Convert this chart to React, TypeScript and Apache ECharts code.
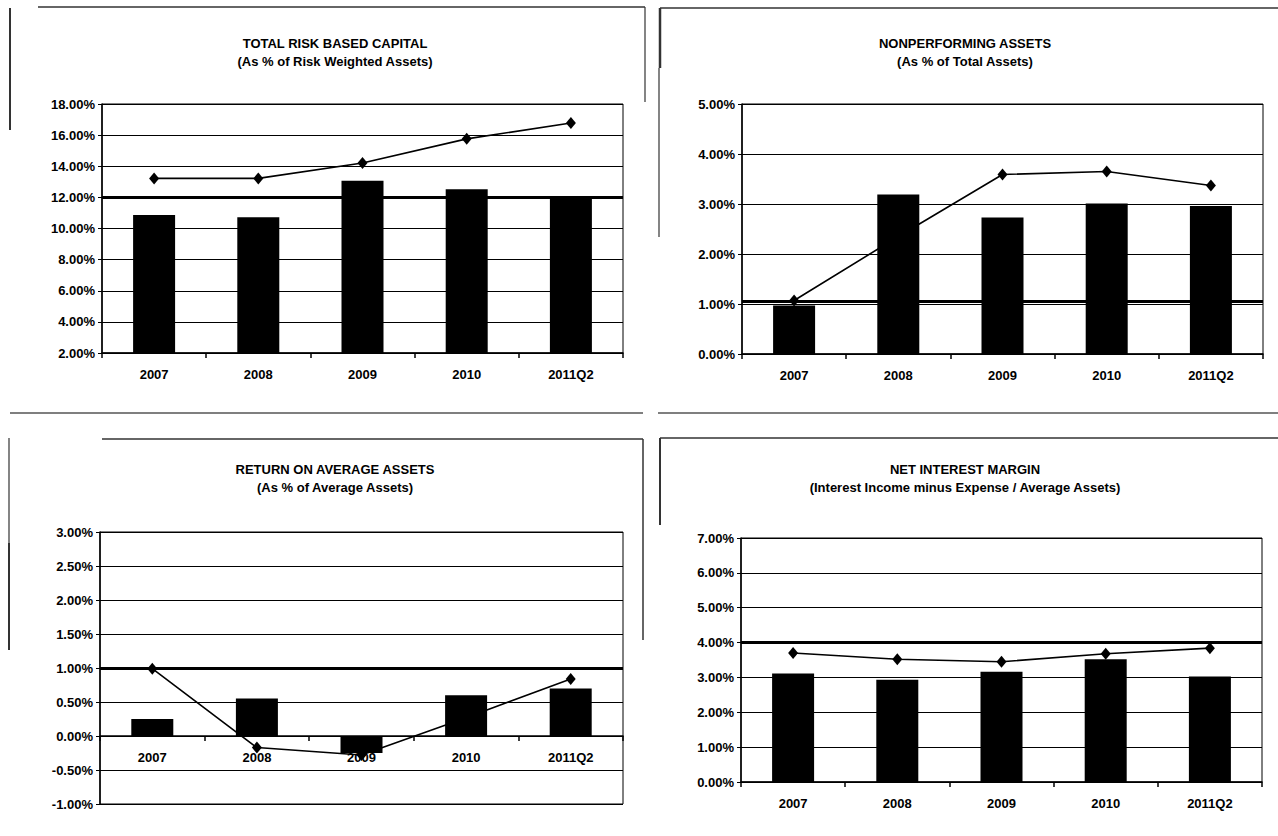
import React, { useEffect, useRef } from "react";
import * as echarts from "echarts";

const categories = ["2007", "2008", "2009", "2010", "2011Q2"];

const capitalBars = [10.87, 10.72, 13.07, 12.52, 11.98];
const capitalLine = [13.22, 13.22, 14.21, 15.76, 16.78];
const capitalBenchmark = [12.0];

const npaBars = [0.97, 3.19, 2.73, 3.01, 2.96];
const npaLine = [1.07, 2.35, 3.59, 3.65, 3.37];
const npaBenchmark = [1.05];

const roaBars = [0.25, 0.55, -0.25, 0.6, 0.7];
const roaLine = [0.99, -0.17, -0.28, 0.27, 0.84];
const roaBenchmark = [1.0];

const nimBars = [3.11, 2.93, 3.16, 3.52, 3.03];
const nimLine = [3.7, 3.52, 3.45, 3.68, 3.84];
const nimBenchmark = [4.0];

const titles = [
  "TOTAL RISK BASED CAPITAL",
  "NONPERFORMING ASSETS",
  "RETURN ON AVERAGE ASSETS",
  "NET INTEREST MARGIN",
];
const subtitles = [
  "(As % of Risk Weighted Assets)",
  "(As % of Total Assets)",
  "(As % of Average Assets)",
  "(Interest Income minus Expense / Average Assets)",
];

const FONT = "'Liberation Sans', Arial, sans-serif";

const panels = [
  { bars: capitalBars, line: capitalLine, bench: capitalBenchmark, min: 2, max: 18, interval: 2,
    grid: { left: 102, top: 104, width: 521, height: 249 }, tx: 330, ty: 32 },
  { bars: npaBars, line: npaLine, bench: npaBenchmark, min: 0, max: 5, interval: 1,
    grid: { left: 742, top: 104, width: 521, height: 250 }, tx: 960, ty: 32 },
  { bars: roaBars, line: roaLine, bench: roaBenchmark, min: -1, max: 3, interval: 0.5,
    grid: { left: 100, top: 532, width: 523, height: 272 }, tx: 330, ty: 458 },
  { bars: nimBars, line: nimLine, bench: nimBenchmark, min: 0, max: 7, interval: 1,
    grid: { left: 741, top: 538, width: 521, height: 244 }, tx: 960, ty: 458 },
];

function frameLine(x1: number, y1: number, x2: number, y2: number, w = 1.5, c = "#333") {
  return {
    type: "line",
    silent: true,
    shape: { x1, y1, x2, y2 },
    style: { stroke: c, lineWidth: w },
  };
}

export default function App() {
  const ref = useRef<HTMLDivElement>(null);
  useEffect(() => {
    if (!ref.current) return;
    const chart = echarts.init(ref.current, null, { renderer: "svg" });
    const option: any = {
      animation: false,
      backgroundColor: "#fff",
      title: panels.map((p, i) => ({
        text: titles[i],
        subtext: subtitles[i],
        left: p.tx,
        top: p.ty,
        textAlign: "center",
        itemGap: 5,
        textStyle: { fontFamily: FONT, fontSize: 13, fontWeight: "bold", color: "#000" },
        subtextStyle: { fontFamily: FONT, fontSize: 13, fontWeight: "bold", color: "#000" },
      })),
      grid: panels.map((p) => ({
        ...p.grid,
        show: true,
        borderColor: "#000",
        borderWidth: 1,
        backgroundColor: "transparent",
        containLabel: false,
      })),
      xAxis: panels.map((p, i) => {
        // place the category axis on the zero line when the value range spans zero
        const zeroShift = p.min < 0 ? -(p.grid.height * (0 - p.min)) / (p.max - p.min) : 0;
        return {
          type: "category",
          gridIndex: i,
          data: categories,
          boundaryGap: true,
          offset: zeroShift,
          axisLine: { show: true, onZero: false, lineStyle: { color: "#000", width: 1.5 } },
          axisTick: { show: true, length: 5, lineStyle: { color: "#000", width: 1.5 } },
          axisLabel: { fontFamily: FONT, fontSize: 13, fontWeight: "bold", color: "#000", margin: 15 },
          z: 5,
        };
      }),
      yAxis: panels.map((p, i) => ({
        type: "value",
        gridIndex: i,
        min: p.min,
        max: p.max,
        interval: p.interval,
        axisLine: { show: true, lineStyle: { color: "#000", width: 1.5 } },
        axisTick: { show: true, length: 4, lineStyle: { color: "#000" } },
        axisLabel: {
          fontFamily: FONT,
          fontSize: 13,
          fontWeight: "bold",
          color: "#000",
          margin: 7,
          formatter: (v: number) => v.toFixed(2) + "%",
        },
        splitLine: { show: true, lineStyle: { color: "#000", width: 1 } },
      })),
      series: panels.flatMap((p, i) => [
        {
          type: "line",
          xAxisIndex: i,
          yAxisIndex: i,
          data: p.line,
          z: 2,
          symbol: "diamond",
          symbolSize: [10, 12],
          itemStyle: { color: "#000" },
          lineStyle: { color: "#000", width: 1.6 },
        },
        {
          type: "bar",
          xAxisIndex: i,
          yAxisIndex: i,
          data: p.bars,
          z: 3,
          barWidth: 42,
          itemStyle: { color: "#000" },
          markLine: {
            silent: true,
            symbol: ["none", "none"],
            label: { show: false },
            lineStyle: { color: "#000", width: 3, type: "solid" },
            data: p.bench.map((b) => ({ yAxis: b })),
          },
        },
      ]),
      graphic: [
        frameLine(38, 7, 645, 7),
        frameLine(645, 7, 645, 102, 1.2),
        frameLine(10, 8, 10, 130, 2),
        frameLine(660, 8, 1278, 8),
        frameLine(660, 8, 660, 68, 2.5),
        frameLine(659, 68, 659, 237, 1.2),
        frameLine(10, 413, 643, 413, 1.5, "#555"),
        frameLine(658, 413, 1278, 413, 1.5, "#555"),
        frameLine(102, 439, 643, 439),
        frameLine(643, 439, 643, 640, 1.5),
        frameLine(9, 438, 9, 543, 1.2),
        frameLine(9, 543, 9, 650, 2),
        frameLine(660, 438, 1278, 438),
        frameLine(660, 438, 660, 525, 2),
      ],
    };
    chart.setOption(option);
    return () => chart.dispose();
  }, []);
  return (
    <div
      ref={ref}
      style={{ position: "absolute", left: 0, top: 0, width: 1278, height: 836, background: "#fff" }}
    />
  );
}
